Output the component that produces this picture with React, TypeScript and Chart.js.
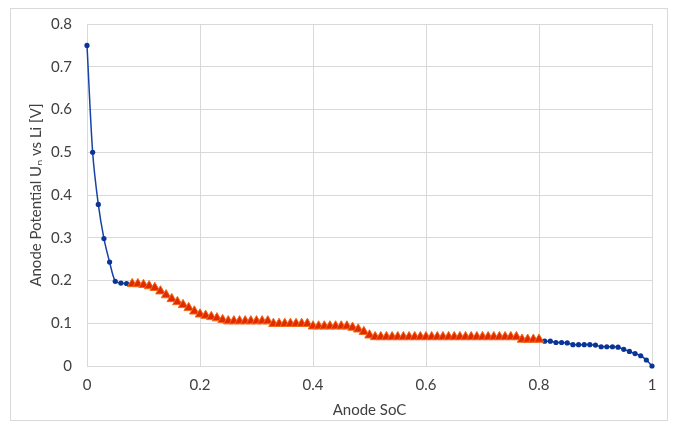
import { useEffect, useRef } from "react";
import { Chart, registerables } from "chart.js";

Chart.register(...registerables);

// Blue series (circle markers), left part
const blueLeftSoc = [0, 0.01, 0.02, 0.03, 0.04, 0.05, 0.06, 0.07, 0.08];
const blueLeftU = [0.75, 0.5, 0.378, 0.298, 0.243, 0.198, 0.194, 0.193, 0.192];

// Triangle series (orange markers)
const triSoc = [
  0.08, 0.09, 0.1, 0.11, 0.12, 0.13, 0.14, 0.15, 0.16, 0.17, 0.18, 0.19, 0.2, 0.21, 0.22, 0.23, 0.24, 0.25,
  0.26, 0.27, 0.28, 0.29, 0.3, 0.31, 0.32,
  0.33, 0.34, 0.35, 0.36, 0.37, 0.38, 0.39,
  0.4, 0.41, 0.42, 0.43, 0.44, 0.45, 0.46,
  0.47, 0.48, 0.49, 0.5,
  0.51, 0.52, 0.53, 0.54, 0.55, 0.56, 0.57, 0.58, 0.59, 0.6, 0.61, 0.62, 0.63, 0.64, 0.65, 0.66, 0.67, 0.68,
  0.69, 0.7, 0.71, 0.72, 0.73, 0.74, 0.75, 0.76,
  0.77, 0.78, 0.79, 0.8,
];
const triU = [
  0.192, 0.192, 0.19, 0.187, 0.183, 0.175, 0.166, 0.157, 0.15, 0.143, 0.136, 0.128, 0.121, 0.118, 0.115, 0.112, 0.108, 0.105,
  0.105, 0.105, 0.105, 0.105, 0.105, 0.105, 0.105,
  0.099, 0.099, 0.099, 0.099, 0.099, 0.099, 0.099,
  0.093, 0.093, 0.093, 0.093, 0.093, 0.093, 0.093,
  0.09, 0.086, 0.08, 0.072,
  0.068, 0.068, 0.068, 0.068, 0.068, 0.068, 0.068, 0.068, 0.068, 0.068, 0.068, 0.068, 0.068, 0.068, 0.068, 0.068, 0.068, 0.068,
  0.068, 0.068, 0.068, 0.068, 0.068, 0.068, 0.068, 0.068,
  0.062, 0.062, 0.062, 0.062,
];

// Blue series, right part
const blueRightSoc = [
  0.8, 0.81, 0.82, 0.83, 0.84, 0.85, 0.86, 0.87, 0.88, 0.89, 0.9, 0.91, 0.92, 0.93, 0.94, 0.95, 0.96, 0.97, 0.98, 0.99, 1.0,
];
const blueRightU = [
  0.062, 0.058, 0.058, 0.055, 0.055, 0.054, 0.05, 0.05, 0.05, 0.05, 0.049, 0.045, 0.045, 0.045, 0.044, 0.039, 0.034, 0.029,
  0.024, 0.014, 0.0,
];

const xTicks = [0, 0.2, 0.4, 0.6, 0.8, 1];
const yTicks = [0, 0.1, 0.2, 0.3, 0.4, 0.5, 0.6, 0.7, 0.8];

const xTitle = "Anode SoC";
const yTitle = "Anode Potential Uₙ vs Li [V]";

const FONT = "Lato, 'Open Sans', sans-serif";
const TEXT = "#404040";
const GRID = "#d9d9d9";

export default function App() {
  const ref = useRef<HTMLCanvasElement | null>(null);

  useEffect(() => {
    document.body.style.margin = "0";
    const canvas = ref.current;
    if (!canvas) return;

    const blueData: { x: number; y: number | null }[] = [
      ...blueLeftSoc.map((x, i) => ({ x, y: blueLeftU[i] })),
      { x: 0.44, y: null },
      ...blueRightSoc.map((x, i) => ({ x, y: blueRightU[i] })),
    ];
    const triData = triSoc.map((x, i) => ({ x, y: triU[i] }));

    const frame = {
      id: "frame",
      beforeDraw(chart: Chart) {
        const ctx = chart.ctx;
        ctx.save();
        ctx.fillStyle = "#ffffff";
        ctx.fillRect(0, 0, chart.width, chart.height);
        ctx.strokeStyle = GRID;
        ctx.lineWidth = 1;
        ctx.strokeRect(10.5, 8.5, 657, 412);
        ctx.restore();
      },
    };

    const chart = new Chart(canvas, {
      type: "scatter",
      data: {
        datasets: [
          {
            label: "tri",
            data: triData,
            showLine: true,
            borderColor: "#e22a00",
            borderWidth: 1.5,
            pointStyle: "triangle",
            pointRadius: 5.5,
            pointBackgroundColor: "#e22a00",
            pointBorderColor: "#f06a1c",
            pointBorderWidth: 1,
            clip: false,
            order: 0,
          } as any,
          {
            label: "blue",
            data: blueData,
            showLine: true,
            spanGaps: false,
            borderColor: "#1743a6",
            borderWidth: 1.5,
            tension: 0.3,
            pointStyle: "circle",
            pointRadius: 2.6,
            pointBackgroundColor: "#0a3597",
            pointBorderColor: "#0a3597",
            pointBorderWidth: 0,
            clip: false,
            order: 1,
          } as any,
        ],
      },
      options: {
        animation: false,
        responsive: false,
        maintainAspectRatio: false,
        layout: { padding: { left: 0, top: 20, right: 23, bottom: 0 } },
        plugins: {
          legend: { display: false },
          tooltip: { enabled: false },
        },
        scales: {
          x: {
            type: "linear",
            min: 0,
            max: 1,
            afterFit: (s: any) => {
              s.height = 62;
            },
            afterBuildTicks: (s: any) => {
              s.ticks = xTicks.map((v) => ({ value: v }));
            },
            ticks: {
              padding: 10,
              color: TEXT,
              font: { family: FONT, size: 15 },
              callback: (v: any) => String(parseFloat(Number(v).toFixed(1))),
            },
            grid: { color: GRID, lineWidth: 1, drawTicks: false },
            border: { color: GRID, width: 1 },
            title: {
              display: true,
              text: xTitle,
              color: TEXT,
              font: { family: FONT, size: 15 },
              padding: { top: 0, bottom: 9 },
            },
          },
          y: {
            type: "linear",
            min: 0,
            max: 0.8,
            afterFit: (s: any) => {
              s.width = 87;
            },
            afterBuildTicks: (s: any) => {
              s.ticks = yTicks.map((v) => ({ value: v }));
            },
            ticks: {
              padding: 15,
              color: TEXT,
              font: { family: FONT, size: 15 },
              callback: (v: any) => String(parseFloat(Number(v).toFixed(1))),
            },
            grid: { color: GRID, lineWidth: 1, drawTicks: false },
            border: { color: GRID, width: 1 },
            title: {
              display: true,
              text: yTitle,
              color: TEXT,
              font: { family: FONT, size: 15 },
              padding: { top: 27, bottom: 0 },
            },
          },
        },
      },
      plugins: [frame],
    });

    return () => chart.destroy();
  }, []);

  return (
    <div style={{ width: 675, height: 428 }}>
      <canvas ref={ref} width={675} height={428} style={{ width: 675, height: 428, display: "block" }} />
    </div>
  );
}
